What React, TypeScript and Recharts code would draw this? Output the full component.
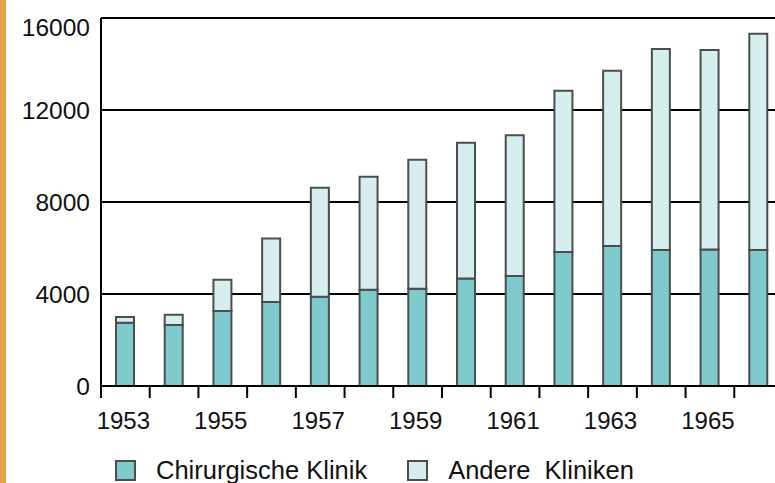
import React from "react";
import { Bar, BarChart, CartesianGrid, Legend, XAxis, YAxis } from "recharts";

const years = [
  "1953", "1954", "1955", "1956", "1957", "1958", "1959",
  "1960", "1961", "1962", "1963", "1964", "1965", "1966",
];
const chirurgische = [
  2750, 2650, 3260, 3650, 3880, 4190, 4230, 4670, 4780, 5830, 6090, 5910, 5940, 5910,
];
const andere = [
  250, 450, 1360, 2760, 4740, 4910, 5610, 5910, 6120, 7010, 7620, 8740, 8670, 9410,
];
const yTicks = [0, 4000, 8000, 12000, 16000];
const seriesNames = ["Chirurgische Klinik", "Andere\u00a0 Kliniken"];

const data = years.map((year, i) => ({
  year,
  chir: chirurgische[i],
  andere: andere[i],
}));

const TEAL = "#7ecacd";
const LIGHT = "#d5eeee";
const EDGE = "#4d4d4d";
const FONT = "'Liberation Sans', Arial, sans-serif";
const legendItems = [
  { name: seriesNames[0], color: TEAL },
  { name: seriesNames[1], color: LIGHT },
];

const XTick = (props: any) => {
  const { x, y, payload, index } = props;
  const half = payload.offset ?? 24.35;
  return (
    <g>
      <line x1={x - half} x2={x - half} y1={y} y2={y + 12} stroke="#000" strokeWidth={2} />
      {index % 2 === 0 && (
        <text x={x - 2} y={y + 34} textAnchor="middle" dominantBaseline="central"
          fontSize={24} fontFamily={FONT} fill="#111">
          {payload.value}
        </text>
      )}
    </g>
  );
};

const YTick = (props: any) => {
  const { x, y, payload } = props;
  const shift = payload.value === yTicks[yTicks.length - 1] ? 9 : 0;
  return (
    <text x={x} y={y + shift} textAnchor="end" dominantBaseline="central"
      fontSize={24.5} fontFamily={FONT} fill="#111">
      {payload.value}
    </text>
  );
};

const LegendBox = () => (
  <div style={{ display: "flex", fontFamily: FONT, fontSize: 25.5, color: "#111", paddingLeft: 115, whiteSpace: "pre" }}>
    {legendItems.map((p) => (
      <div key={p.name} style={{ display: "flex", alignItems: "center", marginRight: 40 }}>
        <span style={{
          width: 17, height: 17, background: p.color, border: `2px solid ${EDGE}`,
          display: "inline-block", marginRight: 20,
        }} />
        <span>{p.name}</span>
      </div>
    ))}
  </div>
);

export default function App() {
  return (
    <div style={{ position: "fixed", left: 0, top: 0, width: 775, height: 483, overflow: "hidden", background: "#fff" }}>
      <div style={{ position: "absolute", left: 0, top: 0, width: 6, height: 483, background: "#dea247" }} />
      <BarChart
        width={800}
        height={483}
        data={data}
        margin={{ top: 18, right: 17, left: 0, bottom: 0 }}
        barSize={18}
      >
        <CartesianGrid vertical={false} stroke="#000" strokeWidth={2} />
        <XAxis
          dataKey="year"
          interval={0}
          tickLine={false}
          tickSize={0}
          tickMargin={0}
          height={73}
          axisLine={{ stroke: "#000", strokeWidth: 2 }}
          tick={<XTick />}
        />
        <YAxis
          type="number"
          domain={[0, 16000]}
          ticks={yTicks}
          width={101}
          tickLine={false}
          tickSize={0}
          tickMargin={11}
          axisLine={{ stroke: "#000", strokeWidth: 2 }}
          tick={<YTick />}
        />
        <Legend
          verticalAlign="bottom"
          height={24}
          content={<LegendBox />}
          wrapperStyle={{ bottom: 3, left: 0 }}
        />
        <Bar dataKey="chir" name={seriesNames[0]} stackId="a" fill={TEAL}
          stroke={EDGE} strokeWidth={2} isAnimationActive={false} />
        <Bar dataKey="andere" name={seriesNames[1]} stackId="a" fill={LIGHT}
          stroke={EDGE} strokeWidth={2} isAnimationActive={false} />
      </BarChart>
    </div>
  );
}
